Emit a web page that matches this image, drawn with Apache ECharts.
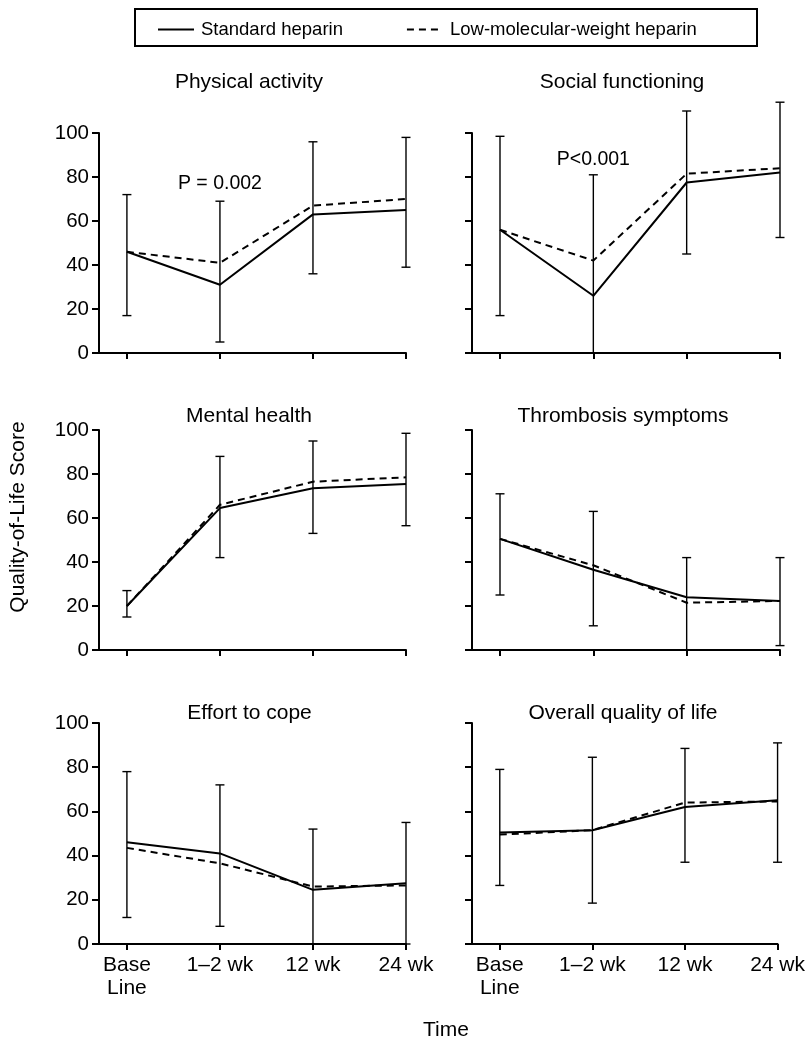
<!DOCTYPE html>
<html>
<head>
<meta charset="utf-8">
<script src="https://cdn.jsdelivr.net/npm/echarts@6/dist/echarts.min.js"></script>
<style>html,body{margin:0;padding:0;background:#fff}#chart{width:808px;height:1041px}</style>
</head>
<body>
<div id="chart"></div>
<script>
// ---- data ----
const timeLabels = ['Base\nLine', '1\u20132 wk', '12 wk', '24 wk'];
const timeIndex = [0, 1, 2, 3];
const seriesNames = ['Standard heparin', 'Low-molecular-weight heparin'];
const panelTitles = ['Physical activity', 'Social functioning', 'Mental health', 'Thrombosis symptoms', 'Effort to cope', 'Overall quality of life'];
const yTicks = [0, 20, 40, 60, 80, 100];

const physicalStd  = [46, 31, 63, 65];
const physicalLmwh = [46, 41, 67, 70];
const physicalLow  = [17, 5, 36, 39];
const physicalHigh = [72, 69, 96, 98];

const socialStd  = [56, 26, 77.5, 82];
const socialLmwh = [56, 42, 81.5, 84];
const socialLow  = [17, 0, 45, 52.5];
const socialHigh = [98.5, 81, 110, 114];

const mentalStd  = [20, 64.5, 73.5, 75.5];
const mentalLmwh = [20, 66, 76.5, 78.5];
const mentalLow  = [15, 42, 53, 56.5];
const mentalHigh = [27, 88, 95, 98.5];

const thrombStd  = [50.5, 36.5, 24, 22.3];
const thrombLmwh = [50.5, 38.5, 21.5, 22.3];
const thrombLow  = [25, 11, 0, 2];
const thrombHigh = [71, 63, 42, 42];

const effortStd  = [46, 41, 24.5, 27.5];
const effortLmwh = [43.5, 36.5, 26, 26.5];
const effortLow  = [12, 8, 0, 0];
const effortHigh = [78, 72, 52, 55];

const overallStd  = [50.5, 51.5, 62, 65];
const overallLmwh = [49.5, 51.5, 64, 64.5];
const overallLow  = [26.5, 18.5, 37, 37];
const overallHigh = [79, 84.5, 88.5, 91];

const pAnnotations = [{ panel: 0, text: 'P = 0.002', x: 1, y: 77 }, { panel: 1, text: 'P<0.001', x: 1, y: 88 }];

const panels = [
  [physicalStd, physicalLmwh, physicalLow, physicalHigh],
  [socialStd, socialLmwh, socialLow, socialHigh],
  [mentalStd, mentalLmwh, mentalLow, mentalHigh],
  [thrombStd, thrombLmwh, thrombLow, thrombHigh],
  [effortStd, effortLmwh, effortLow, effortHigh],
  [overallStd, overallLmwh, overallLow, overallHigh]
];

// ---- layout ----
const FONT = 'Liberation Sans, Arial, Helvetica, sans-serif';
const gridBoxes = [
  { left: 99, top: 133, width: 307, height: 220 },
  { left: 472, top: 133, width: 308, height: 220 },
  { left: 99, top: 430, width: 307, height: 220 },
  { left: 472, top: 430, width: 308, height: 220 },
  { left: 99, top: 723, width: 307, height: 221 },
  { left: 472, top: 723, width: 308, height: 221 }
];
const titlePos = [[249, 82], [622, 82], [249, 416], [623, 416], [249.5, 713], [623, 713]];

const grids = [], xAxes = [], yAxes = [], series = [];
panels.forEach((p, i) => {
  const g = gridBoxes[i];
  grids.push({ left: g.left, top: g.top, width: g.width, height: g.height, containLabel: false });
  const isLeft = i % 2 === 0;
  const isBottom = i >= 4;
  xAxes.push({
    type: 'value', gridIndex: i, min: -0.3, max: 3,
    splitLine: { show: false },
    axisLine: { show: true, onZero: false, lineStyle: { color: '#000', width: 2 } },
    axisTick: { show: true, customValues: timeIndex, length: 6, lineStyle: { color: '#000', width: 2 } },
    axisLabel: {
      show: isBottom, customValues: timeIndex, margin: 10,
      formatter: v => timeLabels[Math.round(v)],
      color: '#000', fontSize: 21, fontFamily: FONT, lineHeight: 23
    }
  });
  yAxes.push({
    type: 'value', gridIndex: i, min: 0, max: 100, interval: 20,
    splitLine: { show: false },
    axisLine: { show: true, onZero: false, lineStyle: { color: '#000', width: 2 } },
    axisTick: { show: true, length: 7, lineStyle: { color: '#000', width: 2 } },
    axisLabel: { show: isLeft, margin: 10, color: '#000', fontSize: 20.5, fontFamily: FONT }
  });
  const [std, lmwh, low, high] = p;
  series.push({
    type: 'custom', name: 'error' + i, xAxisIndex: i, yAxisIndex: i, z: 2,
    data: timeIndex.map((t, k) => [t, low[k], high[k]]),
    encode: { x: 0, y: [1, 2] },
    renderItem: function (params, api) {
      const x = api.value(0);
      const pLo = api.coord([x, api.value(1)]);
      const pHi = api.coord([x, api.value(2)]);
      const hw = 4.5;
      const st = { stroke: '#000', lineWidth: 1.4 };
      return {
        type: 'group', children: [
          { type: 'line', shape: { x1: pLo[0], y1: pLo[1], x2: pHi[0], y2: pHi[1] }, style: st },
          { type: 'line', shape: { x1: pLo[0] - hw, y1: pLo[1], x2: pLo[0] + hw, y2: pLo[1] }, style: st },
          { type: 'line', shape: { x1: pHi[0] - hw, y1: pHi[1], x2: pHi[0] + hw, y2: pHi[1] }, style: st }
        ]
      };
    }
  });
  const ann = pAnnotations.filter(a => a.panel === i);
  series.push({
    type: 'line', name: seriesNames[0], xAxisIndex: i, yAxisIndex: i, z: 3,
    symbol: 'none', showSymbol: false,
    lineStyle: { color: '#000', width: 2, type: 'solid' }, itemStyle: { color: '#000' },
    data: timeIndex.map((t, k) => [t, std[k]]),
    markPoint: ann.length ? {
      symbol: 'circle', symbolSize: 0, silent: true,
      label: { show: true, position: 'inside', formatter: '{b}', color: '#000', fontSize: 19.5, fontFamily: FONT },
      data: ann.map(a => ({ name: a.text, coord: [a.x, a.y] }))
    } : undefined
  });
  series.push({
    type: 'line', name: seriesNames[1], xAxisIndex: i, yAxisIndex: i, z: 3,
    symbol: 'none', showSymbol: false,
    lineStyle: { color: '#000', width: 2, type: [7, 5] }, itemStyle: { color: '#000' },
    data: timeIndex.map((t, k) => [t, lmwh[k]])
  });
});

const graphic = [
  { type: 'rect', shape: { x: 135, y: 9, width: 622, height: 37 }, style: { fill: 'none', stroke: '#000', lineWidth: 2 }, z: 0 },
  { type: 'text', x: 18, y: 517, rotation: Math.PI / 2,
    style: { text: 'Quality-of-Life Score', fill: '#000', font: '21px ' + FONT, textAlign: 'center', textVerticalAlign: 'middle' } },
  { type: 'text', x: 446, y: 1030,
    style: { text: 'Time', fill: '#000', font: '21px ' + FONT, textAlign: 'center', textVerticalAlign: 'middle' } }
];
panelTitles.forEach((t, i) => {
  graphic.push({ type: 'text', x: titlePos[i][0], y: titlePos[i][1],
    style: { text: t, fill: '#000', font: '21px ' + FONT, textAlign: 'center', textVerticalAlign: 'middle' } });
});

const option = {
  animation: false,
  backgroundColor: '#fff',
  legend: {
    data: seriesNames, left: 157, top: 20, padding: 0, itemWidth: 36, itemHeight: 14, itemGap: 63,
    itemStyle: { color: 'rgba(0,0,0,0)', borderWidth: 0, opacity: 0 },
    textStyle: { color: '#000', fontSize: 18.5, fontFamily: FONT, padding: [0, 0, 0, 2] },
    selectedMode: false
  },
  graphic: graphic,
  grid: grids,
  xAxis: xAxes,
  yAxis: yAxes,
  series: series
};

const chart = echarts.init(document.getElementById('chart'), null, { renderer: 'canvas' });
chart.setOption(option);
</script>
</body>
</html>
